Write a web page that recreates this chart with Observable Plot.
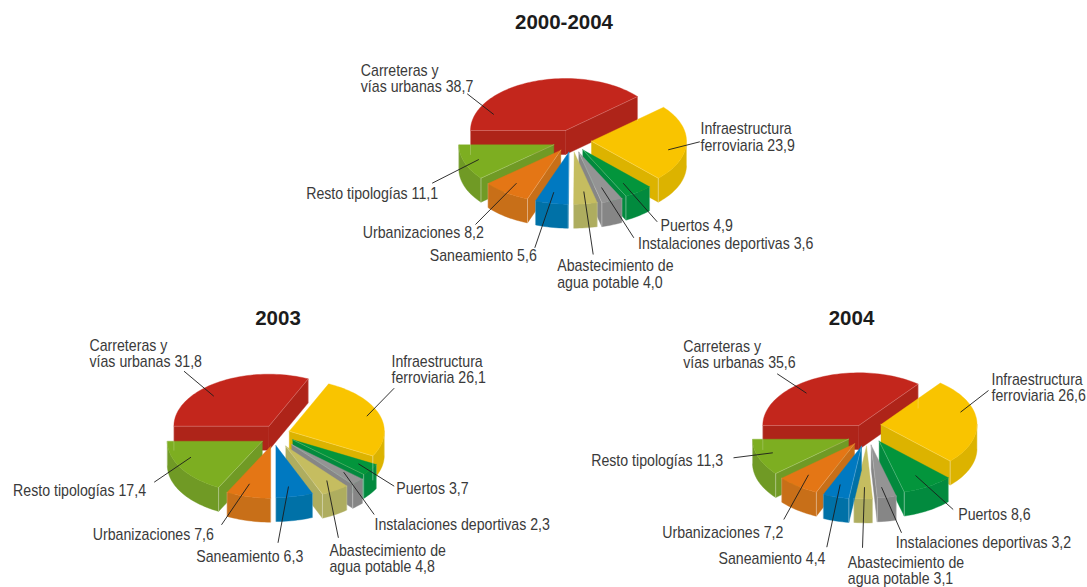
<!DOCTYPE html>
<html lang="es">
<head>
<meta charset="utf-8">
<style>html,body{margin:0;padding:0;background:#fff}svg{display:block}</style>
<script src="https://cdn.jsdelivr.net/npm/d3@7"></script>
<script src="https://cdn.jsdelivr.net/npm/@observablehq/plot@0.6"></script>
</head>
<body>
<div id="chart"></div>
<script>
// ---- data, percent of the total ----
const categories = ["Carreteras y\nvías urbanas","Infraestructura\nferroviaria","Puertos","Instalaciones deportivas","Abastecimiento de\nagua potable","Saneamiento","Urbanizaciones","Resto tipologías"];
const values2000 = [38.7,23.9,4.9,3.6,4.0,5.6,8.2,11.1];
const values2003 = [31.8,26.1,3.7,2.3,4.8,6.3,7.6,17.4];
const values2004 = [35.6,26.6,8.6,3.2,3.1,4.4,7.2,11.3];
const titles = ["2000-2004","2003","2004"];
const labels2000 = ["38,7","23,9","4,9","3,6","4,0","5,6","8,2","11,1"];
const labels2003 = ["31,8","26,1","3,7","2,3","4,8","6,3","7,6","17,4"];
const labels2004 = ["35,6","26,6","8,6","3,2","3,1","4,4","7,2","11,3"];

// ---- styles ----
const topColors  = ["#c3261c","#f9c400","#03953c","#949494","#c5bd60","#0079c1","#e47615","#7dae21"];
const wallColors = ["#ae2419","#dcb300","#028a3e","#868686","#aead5f","#0071a7","#c86f18","#709a25"];
const drawOrder = [0,1,2,3,4,7,6,5];
const depth = 24;
const narrow = 0.885;

// ---- layout of the three exploded pies ----
const pieLayouts = [
  {values:values2000, labels:labels2000, title:titles[0], titlePos:[563.5,22], rx:95, ry:52,
   apex:[[565,130],[591,140.7],[582.3,149.3],[578.3,151.7],[573.7,151.7],[568.3,151.7],[560.3,149.7],[553.3,144.3]],
   text:[[360.3,78],[700,136.5],[660,225],[637.5,243],[556.7,273.5],[429.3,255],[362.3,232],[305.7,193]],
   lead:[[466.7,93.3,493.3,114],[699.3,141.3,667.7,149.3],[656.7,221.3,622.7,182.7],[633.3,237.3,601,187],[592.7,254,583.3,191],[534.3,247.3,553.3,191.7],[475,224,516,182.7],[431.7,182.7,478.3,159]]},
  {values:values2003, labels:labels2003, title:titles[1], titlePos:[277.5,318], rx:95, ry:52,
   apex:[[268.4,425.7],[288.8,430.7],[292.3,439.3],[291.2,444],[285.3,445.7],[275.4,445],[270.2,445.7],[261.8,440.7]],
   text:[[89,353.3],[391,369],[395.8,488.3],[374,524.3],[329,558],[195.8,556],[92.3,534.3],[12.6,490]],
   lead:[[183.5,370.7,213.3,395.7],[393.7,387.7,366.3,415.7],[393.7,485.7,357.9,463.3],[373.7,514,343.2,471.7],[337.9,537.3,326.3,480],[277.5,542.3,288,486],[221,524.3,249,483.3],[153.7,481.7,190.5,456.7]]},
  {values:values2004, labels:labels2004, title:titles[2], titlePos:[851,318], rx:96, ry:52.7,
   apex:[[858.3,425],[880.5,424],[878.7,440.7],[870.7,444.7],[866,445.7],[861,445.7],[854,443.3],[848,438.7]],
   text:[[682.7,354.2],[991,387],[957.7,514],[895.3,541.7],[847.3,570.3],[718,558.3],[661.7,532.3],[590.7,460.3]],
   lead:[[776.7,373.3,806,392.7],[988,390,960,411.7],[952.7,509,915,475],[901,532.3,881,486.7],[862,547.3,864,486.7],[826.3,546.7,839.7,484],[783.3,519,808,474.3],[733,457.3,772.3,452.3]]}
];

// ---- slice geometry derived from the values ----
const faces = [], edges = [], texts = [], leaders = [], heads = [];
let fid = 0, eid = 0;
const rad = d => d * Math.PI / 180;
function arc(p, a, r, t0, t1) {
  const n = Math.max(2, Math.ceil(Math.abs(t1 - t0) / 2));
  return d3.range(n + 1).map(i => {
    const t = rad(t0 + (t1 - t0) * i / n);
    return [a[0] + r.rx * Math.cos(t), a[1] + r.ry * Math.sin(t)];
  });
}
function addFace(pts, color) {
  const id = fid++;
  [...pts, pts[0]].forEach(q => faces.push({id, x:q[0], y:q[1], color}));
}
function addEdge(pts) {
  const id = eid++;
  pts.forEach(q => edges.push({id, x:q[0], y:q[1]}));
}
pieLayouts.forEach(p => {
  const total = d3.sum(p.values);
  let acc = 180;
  const spans = p.values.map(v => { const s = [acc, acc + v / total * 360]; acc = s[1]; return s; });
  drawOrder.forEach(i => {
    const [t0, t1] = spans[i], a = p.apex[i];
    const down = q => [q[0], q[1] + depth];
    const pt = t => arc(p, a, p, t, t)[0];
    // cut faces that look towards the viewer
    const cut = t => {
      const e = pt(t);
      addFace([a, e, down(e), down(a)], wallColors[i]);
      addEdge([a, e, down(e)]);
    };
    if (Math.cos(rad(t0)) < -0.001) cut(t0);
    if (Math.cos(rad(t1)) > 0.001) cut(t1);
    // outer rim, front half only
    [[t0, t1], [t0 - 360, t1 - 360]].forEach(([s, e]) => {
      const u0 = Math.max(s, 0), u1 = Math.min(e, 180);
      if (u1 > u0) {
        const rim = arc(p, a, p, u0, u1);
        addFace([...rim, ...rim.map(down).reverse()], wallColors[i]);
        addEdge([rim[0], down(rim[0])]);
        addEdge([rim[rim.length - 1], down(rim[rim.length - 1])]);
      }
    });
    addFace([a, ...arc(p, a, p, t0, t1)], topColors[i]);
  });
  categories.forEach((c, i) => {
    texts.push({x:p.text[i][0], y:p.text[i][1], label:c + " " + p.labels[i]});
    const l = p.lead[i];
    leaders.push({x1:l[0], y1:l[1], x2:l[2], y2:l[3]});
  });
  heads.push({x:p.titlePos[0], y:p.titlePos[1], label:p.title});
});

const chart = Plot.plot({
  width:1087, height:587, margin:0,
  x:{domain:[0,1087], range:[0,1087], axis:null},
  y:{domain:[0,587], range:[0,587], axis:null},
  color:{type:"identity"},
  marks:[
    Plot.line(faces, {x:"x", y:"y", z:"id", fill:"color", stroke:"color", strokeWidth:0.4}),
    Plot.line(edges, {x:"x", y:"y", z:"id", stroke:"#fff", strokeOpacity:0.3, strokeWidth:0.7}),
    Plot.link(leaders, {x1:"x1", y1:"y1", x2:"x2", y2:"y2", stroke:"#1c1c1c", strokeWidth:0.9}),
    Plot.text(texts, {x:"x", y:"y", text:"label", textAnchor:"start", lineAnchor:"middle", lineHeight:1.04, fontFamily:"'Liberation Sans',Arial,sans-serif", fontSize:16, fill:"#3a3a3a", className:"lab"}),
    Plot.text(heads, {x:"x", y:"y", text:"label", fontFamily:"'Liberation Sans',Arial,sans-serif", fontWeight:"bold", fontSize:20.5, fill:"#1c1c1c"})
  ]
});
// the reference labels are set in a condensed face: narrow each one horizontally
chart.querySelectorAll("g.lab text, .lab text").forEach(t => {
  t.setAttribute("transform", (t.getAttribute("transform") || "") + ` scale(${narrow},1)`);
});
document.getElementById("chart").appendChild(chart);
</script>
</body>
</html>
